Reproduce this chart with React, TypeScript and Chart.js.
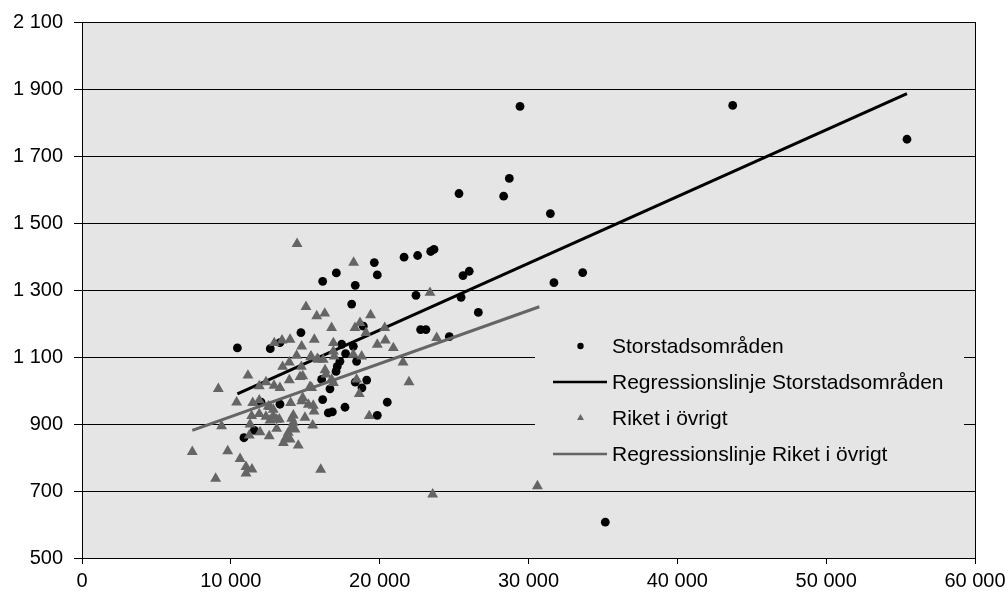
import React, { useEffect, useRef } from "react";
import { Chart, registerables } from "chart.js";

Chart.register(...registerables);

// Storstadsområden (black dots): [x, y]
const storstad: [number, number][] = [
  [10440, 1127], [12650, 1125], [13300, 1143], [14710, 1173], [12030, 965], [13300, 959], [10880, 859], [11580, 881],
  [16170, 1326], [17090, 1351], [18360, 1314], [19640, 1382], [19840, 1345], [21640, 1398], [22550, 1403], [23430, 1415],
  [23650, 1421], [18120, 1258], [29430, 1848], [43720, 1851], [55430, 1750], [25330, 1588], [28710, 1633], [28330, 1580],
  [31470, 1528], [25600, 1343], [26020, 1356], [33640, 1352], [31710, 1322], [22440, 1284], [25470, 1278], [26630, 1233],
  [22750, 1182], [23110, 1182], [24680, 1161], [35160, 607], [18900, 1192], [17450, 1138], [18230, 1132], [17710, 1110],
  [17330, 1087], [17150, 1072], [17070, 1057], [18450, 1087], [16100, 1033], [16660, 1005], [18360, 1025], [19130, 1031],
  [18810, 1008], [16170, 973], [20510, 965], [17670, 950], [16550, 933], [16820, 936], [19840, 926],
];

// Riket i övrigt (grey triangles): [x, y]
const riket: [number, number][] = [
  [14450, 1438], [18250, 1382], [15050, 1250], [15770, 1222], [16310, 1230], [19390, 1225], [23380, 1292],
  [16770, 1187], [18340, 1187], [18680, 1202], [19080, 1172], [20340, 1187], [15610, 1152], [16890, 1142], [19840, 1137],
  [20380, 1150], [20920, 1127], [23830, 1157], [14760, 1132], [15370, 1100], [15880, 1092], [16210, 1092], [16890, 1117],
  [16950, 1102], [18230, 1107], [18790, 1102], [21570, 1084], [16330, 1061], [16390, 1048], [16770, 1033], [16890, 1023],
  [14830, 1043], [18450, 1033], [21970, 1025], [18630, 990], [15430, 1008], [14830, 978], [15210, 958], [15540, 955],
  [19300, 924], [15500, 896], [12920, 1142], [13440, 1150], [13980, 1152], [14420, 1104], [13930, 1084], [15390, 1102],
  [15810, 1095], [13480, 1071], [14740, 1071], [11150, 1045], [9160, 1005], [11910, 1013], [12360, 1025], [12900, 1015],
  [13300, 1008], [13930, 1031], [14650, 1041], [15320, 1011], [10390, 965], [11470, 963], [11910, 971], [12630, 951],
  [14020, 963], [14760, 968], [15590, 938], [9380, 894], [11400, 924], [11910, 930], [12360, 922], [12850, 924],
  [13260, 914], [14200, 926], [14980, 919], [11290, 899], [7410, 817], [9790, 819], [10620, 796], [11020, 772],
  [11420, 765], [11020, 753], [8980, 737], [16040, 764], [23560, 690], [30600, 715], [11240, 866], [12580, 864],
  [13080, 886], [14530, 836], [13530, 844], [13700, 859], [13860, 874], [14090, 889], [14200, 904], [14310, 884],
  [13980, 854], [11960, 876], [12630, 911], [13080, 913], [14090, 916], [12520, 953], [12850, 943],
];

// Regression line end points
const regStorstad: [number, number][] = [[10440, 990], [55430, 1886]];
const regRiket: [number, number][] = [[7410, 881], [30730, 1250]];

const legendLabels = [
  "Storstadsområden",
  "Regressionslinje Storstadsområden",
  "Riket i övrigt",
  "Regressionslinje Riket i övrigt",
];

const xTicks = [0, 10000, 20000, 30000, 40000, 50000, 60000];
const yTicks = [500, 700, 900, 1100, 1300, 1500, 1700, 1900, 2100];

const fmt = (n: number) =>
  n >= 1000 ? `${Math.floor(n / 1000)} ${String(n % 1000).padStart(3, "0")}` : String(n);

const PLOT_BG = "#e5e5e5";
const GREY = "#656565";
const FONT = "'Liberation Sans', Arial, sans-serif";

const plotPlugin = {
  id: "plotDecor",
  beforeDraw(chart: any) {
    const { ctx, chartArea: a } = chart;
    ctx.save();
    ctx.fillStyle = "#ffffff";
    ctx.fillRect(0, 0, chart.width, chart.height);
    ctx.fillStyle = PLOT_BG;
    ctx.fillRect(a.left, a.top, a.right - a.left, a.bottom - a.top);
    ctx.restore();
  },
  beforeDatasetsDraw(chart: any) {
    const { ctx, chartArea: a } = chart;
    ctx.save();
    // right border
    ctx.strokeStyle = "#000";
    ctx.lineWidth = 1;
    ctx.beginPath();
    ctx.moveTo(Math.round(a.right) + 0.5, a.top);
    ctx.lineTo(Math.round(a.right) + 0.5, a.bottom);
    ctx.stroke();
    // legend box (covers gridlines)
    const bx = 535, by = 322, bw = 429, bh = 162;
    ctx.fillStyle = PLOT_BG;
    ctx.fillRect(bx, by, bw, bh);
    const rows = [346, 382, 418, 454];
    ctx.font = `21px ${FONT}`;
    ctx.textBaseline = "middle";
    ctx.textAlign = "left";
    rows.forEach((y, i) => {
      if (i === 0) {
        ctx.fillStyle = "#000";
        ctx.beginPath();
        ctx.arc(580.5, y, 3.2, 0, Math.PI * 2);
        ctx.fill();
      } else if (i === 2) {
        ctx.fillStyle = GREY;
        const r = 4;
        ctx.beginPath();
        ctx.moveTo(580.5, y - r);
        ctx.lineTo(580.5 + r * 0.866, y + r * 0.5);
        ctx.lineTo(580.5 - r * 0.866, y + r * 0.5);
        ctx.closePath();
        ctx.fill();
      } else {
        ctx.strokeStyle = i === 1 ? "#000" : GREY;
        ctx.lineWidth = 2.5;
        ctx.beginPath();
        ctx.moveTo(553, y);
        ctx.lineTo(607, y);
        ctx.stroke();
      }
      ctx.fillStyle = "#000";
      ctx.fillText(legendLabels[i], 612, y + 1);
    });
    ctx.restore();
  },
};

export default function App() {
  const ref = useRef<HTMLCanvasElement | null>(null);

  useEffect(() => {
    if (!ref.current) return;
    const toPts = (arr: [number, number][]) => arr.map(([x, y]) => ({ x, y }));
    const chart = new Chart(ref.current, {
      type: "scatter",
      data: {
        datasets: [
          {
            label: legendLabels[0],
            data: toPts(storstad),
            pointStyle: "circle",
            pointRadius: 4.4,
            pointBorderWidth: 0,
            backgroundColor: "#000",
            borderColor: "#000",
            order: 4,
          },
          {
            label: legendLabels[1],
            data: toPts(regStorstad),
            showLine: true,
            pointRadius: 0,
            borderColor: "#000",
            borderWidth: 3,
            order: 3,
          },
          {
            label: legendLabels[2],
            data: toPts(riket),
            pointStyle: "triangle",
            pointRadius: 6.3,
            pointBorderWidth: 0,
            backgroundColor: GREY,
            borderColor: GREY,
            order: 2,
          },
          {
            label: legendLabels[3],
            data: toPts(regRiket),
            showLine: true,
            pointRadius: 0,
            borderColor: GREY,
            borderWidth: 3,
            order: 1,
          },
        ],
      },
      options: {
        responsive: false,
        animation: false,
        devicePixelRatio: 1,
        layout: { padding: { left: 0, top: 22, right: 33, bottom: 0 } },
        plugins: {
          legend: { display: false },
          tooltip: { enabled: false },
          title: { display: false },
        },
        scales: {
          x: {
            type: "linear",
            min: 0,
            max: 60000,
            afterBuildTicks: (s: any) => {
              s.ticks = xTicks.map((v) => ({ value: v }));
            },
            afterFit: (s: any) => {
              s.height = 39;
              s.paddingLeft = 0;
              s.paddingRight = 0;
            },
            ticks: {
              color: "#000",
              font: { size: 20, family: FONT },
              padding: 5,
              maxRotation: 0,
              callback: (v: any) => fmt(Number(v)),
            },
            grid: {
              drawOnChartArea: false,
              drawTicks: true,
              tickLength: 6,
              tickColor: "#000",
            },
            border: { display: true, color: "#000", width: 1 },
          },
          y: {
            type: "linear",
            min: 500,
            max: 2100,
            afterBuildTicks: (s: any) => {
              s.ticks = yTicks.map((v) => ({ value: v }));
            },
            afterFit: (s: any) => {
              s.width = 82;
              s.paddingTop = 0;
              s.paddingBottom = 0;
            },
            ticks: {
              color: "#000",
              font: { size: 20, family: FONT },
              padding: 11,
              callback: (v: any) => fmt(Number(v)),
            },
            grid: {
              color: "#000",
              lineWidth: 1,
              drawTicks: true,
              tickLength: 8,
              tickColor: "#000",
            },
            border: { display: true, color: "#000", width: 1 },
          },
        },
      },
      plugins: [plotPlugin],
    });
    return () => chart.destroy();
  }, []);

  return (
    <div style={{ position: "absolute", left: 0, top: 0, width: 1008, height: 597, background: "#fff" }}>
      <canvas ref={ref} width={1008} height={597} style={{ display: "block" }} />
    </div>
  );
}
